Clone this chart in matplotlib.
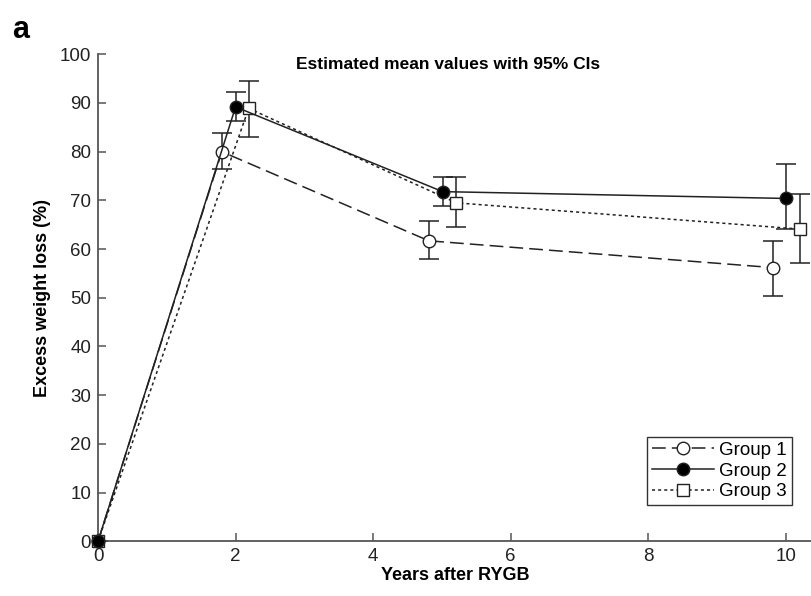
import numpy as np
import matplotlib.pyplot as plt

plt.rcParams['font.family'] = ['Liberation Sans', 'DejaVu Sans']

# data
x_g1 = [0, 1.80, 4.81, 9.81]
y_g1 = [0, 80.0, 61.7, 56.2]
lo_g1 = [0, 76.4, 57.9, 50.4]
hi_g1 = [0, 83.9, 65.8, 61.7]

x_g2 = [0, 2.00, 5.01, 10.00]
y_g2 = [0, 89.2, 71.8, 70.4]
lo_g2 = [0, 86.3, 68.9, 64.1]
hi_g2 = [0, 92.3, 74.9, 77.4]

x_g3 = [0, 2.19, 5.21, 10.21]
y_g3 = [0, 88.9, 69.5, 64.1]
lo_g3 = [0, 83.0, 64.5, 57.1]
hi_g3 = [0, 94.5, 74.9, 71.3]

x_ticks = [0, 2, 4, 6, 8, 10]
y_ticks = list(range(0, 101, 10))

fig = plt.figure(figsize=(8.12, 5.96), dpi=100)
ax = fig.add_axes([0.1207, 0.0918, 0.8793, 0.8171])


def draw_group(x, y, lo, hi, ls, marker, face, label, z):
    yerr = [np.array(y) - np.array(lo), np.array(hi) - np.array(y)]
    ax.errorbar(x, y, yerr=yerr, fmt='none', ecolor='#222222', elinewidth=1.1,
                capsize=7, capthick=1.1, zorder=2)
    ax.plot(x, y, color='#222222', linestyle=ls, linewidth=1.1, marker=marker,
            markersize=9, markerfacecolor=face, markeredgecolor='#222222',
            markeredgewidth=1.0, label=label, zorder=z, clip_on=False)


draw_group(x_g1, y_g1, lo_g1, hi_g1, (0, (9, 4)), 'o', 'white', 'Group 1', 3)
draw_group(x_g3, y_g3, lo_g3, hi_g3, (0, (2, 2)), 's', 'white', 'Group 3', 4)
draw_group(x_g2, y_g2, lo_g2, hi_g2, '-', 'o', 'black', 'Group 2', 5)

ax.set_xlim(0, 10.38)
ax.set_ylim(0, 100)
ax.set_xticks(x_ticks)
ax.set_yticks(y_ticks)
ax.spines['top'].set_visible(False)
ax.spines['right'].set_visible(False)
for s in ['left', 'bottom']:
    ax.spines[s].set_color('#555555')
    ax.spines[s].set_linewidth(1.3)
ax.tick_params(direction='in', length=6, width=1.1, colors='#555555',
               labelcolor='#222222', labelsize=13.5, pad=5)

ax.set_xlabel('Years after RYGB', fontsize=13, fontweight='bold', labelpad=1)
ax.set_ylabel('Excess weight loss (%)', fontsize=13, fontweight='bold', labelpad=6)
ax.text(0.49, 0.995, 'Estimated mean values with 95% CIs', transform=ax.transAxes,
        fontsize=12.5, fontweight='bold', ha='center', va='top')

handles, labels = ax.get_legend_handles_labels()
order = [labels.index('Group 1'), labels.index('Group 2'), labels.index('Group 3')]
leg = ax.legend([handles[i] for i in order], [labels[i] for i in order],
                loc='lower right', bbox_to_anchor=(0.985, 0.055), fontsize=13.5,
                fancybox=False, edgecolor='#333333', framealpha=1,
                handlelength=3.3, borderpad=0.25, labelspacing=0.2,
                handletextpad=0.3)
leg.get_frame().set_linewidth(1.0)

fig.text(0.015, 0.975, 'a', fontsize=22, fontweight='bold', va='top', ha='left')

fig.savefig('out.png', dpi=100)
